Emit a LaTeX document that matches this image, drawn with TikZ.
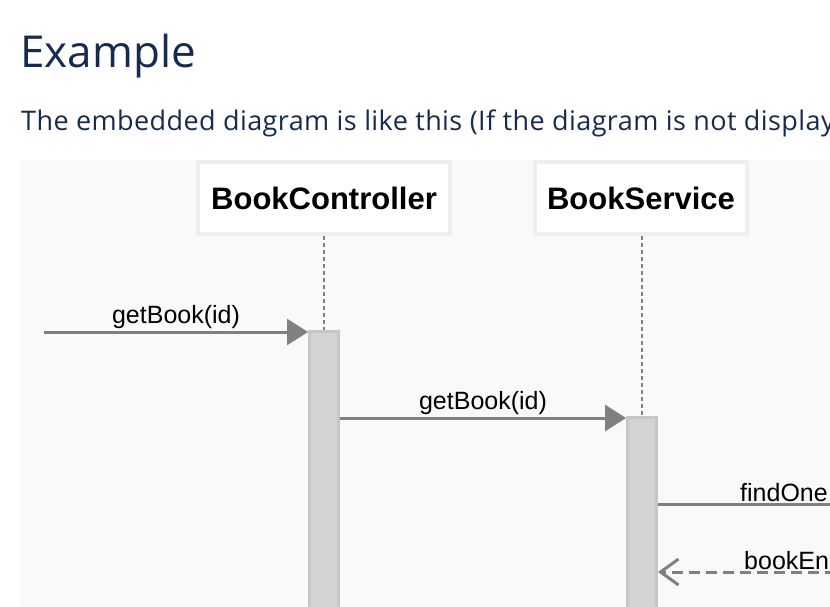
\documentclass[tikz,border=0pt]{standalone}
\usepackage{fontspec}
\setmainfont{Liberation Sans}
\newfontfamily\pagefont{Open Sans}
\newfontfamily\introfont[LetterSpace=1.5]{Open Sans}
\usetikzlibrary{positioning, arrows.meta, calc}
\definecolor{TitleNavy}{RGB}{23, 43, 77}
\definecolor{PanelGray}{RGB}{249, 249, 249}
\definecolor{BoxBorder}{RGB}{238, 238, 238}
\definecolor{BarFill}{RGB}{211, 211, 211}
\definecolor{BarBorder}{RGB}{198, 198, 198}
\definecolor{MsgGray}{RGB}{128, 128, 128}

\begin{document}
\begin{tikzpicture}[
    x=1pt, y=-1pt,
    participant/.style={rectangle, draw=BoxBorder, line width=4pt, fill=white, minimum height=72pt, font=\fontsize{31}{36}\selectfont\bfseries},
    activation/.style={rectangle, draw=BarBorder, line width=3pt, fill=BarFill, minimum width=29pt, inner sep=0pt, anchor=north},
    lifeline/.style={MsgGray, line width=1.3pt, dash pattern=on 4pt off 3pt},
    call/.style={MsgGray, line width=3pt, -{Triangle[length=21pt, width=26pt]}},
    reply/.style={MsgGray, line width=3pt, dash pattern=on 11pt off 6pt, -{Straight Barb[length=18pt, width=26pt, line width=3pt]}},
    msglabel/.style={above, inner sep=2pt, text=black, font=\fontsize{25}{29}\selectfont}
  ]
    \useasboundingbox (0,0) rectangle (830,606);

    % Page text
    \node[anchor=base west, inner sep=0pt, text=TitleNavy, font=\pagefont\fontsize{44}{50}\selectfont] (title) at (20,67) {Example};
    \node[anchor=base west, inner sep=0pt, text=TitleNavy, font=\introfont\fontsize{27}{31}\selectfont] (intro) at (21,130) {The embedded diagram is like this (If the diagram is not display};

    % Diagram panel
    \fill[PanelGray] (20,160) rectangle (840,620);

    % Participants
    \node[participant, minimum width=252pt] (ctrl) at (324,198) {BookController};
    \node[participant, minimum width=212pt] (svc) at (641,198) {BookService};

    % Activations
    \node[activation, minimum height=300pt] (ctrlbar) at (324,330) {};
    \node[activation, minimum height=220pt] (svcbar) at (642,416) {};

    % Lifelines
    \draw[lifeline] (ctrl.south) -- (ctrlbar.north);
    \draw[lifeline] (svc.south -| svcbar.north) -- (svcbar.north);

    % Messages
    \coordinate (caller) at (44,332);
    \coordinate (m2) at (340,418);
    \coordinate (repo) at (870,504);
    \coordinate (repoback) at (870,572);

    \draw[call] (caller) -- (caller -| ctrlbar.west) node[msglabel, midway] (lbl1) {getBook(id)};
    \draw[call] (m2 -| ctrlbar.east) -- (m2 -| svcbar.west) node[msglabel, midway] (lbl2) {getBook(id)};
    \draw[MsgGray, line width=3pt] (repo -| svcbar.east) -- (repo);
    \draw[reply] (repoback) -- (repoback -| svcbar.east);

    % Labels cut by the frame
    \node[msglabel, anchor=south west] (lbl3) at (738,504) {findOne};
    \node[msglabel, anchor=south west] (lbl4) at (742,572) {bookEn};
  \end{tikzpicture}
\end{document}
